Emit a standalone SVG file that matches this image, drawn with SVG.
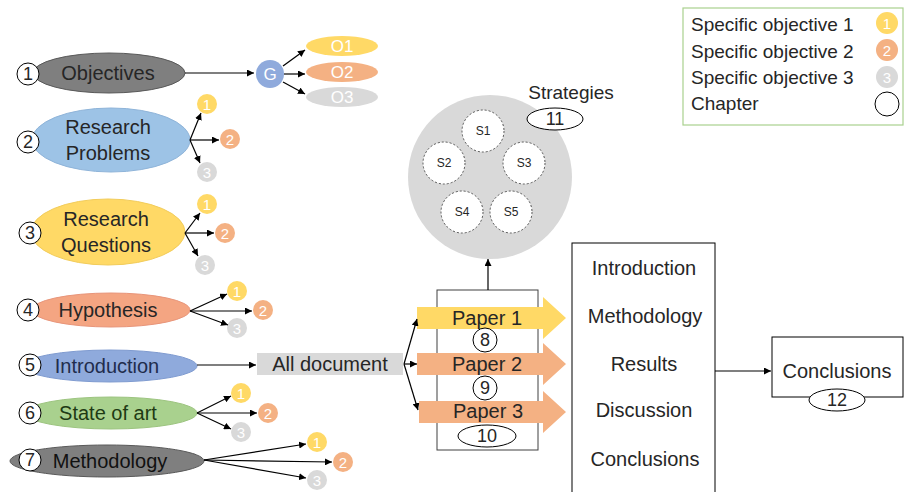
<svg xmlns="http://www.w3.org/2000/svg" width="906" height="492" viewBox="0 0 906 492">
<defs>
<marker id="ah" viewBox="0 0 10 10" refX="10" refY="5" markerWidth="7" markerHeight="7" orient="auto" markerUnits="userSpaceOnUse"><path d="M0,0 L10,5 L0,10 z" fill="#000"/></marker>
<style>
text{font-family:"Liberation Sans",Arial,sans-serif;fill:#262626;text-anchor:middle;dominant-baseline:central}
.t{font-size:20px}
.n{font-size:18px}
.w{fill:#fff;font-size:15px}
.ow{fill:#fff;font-size:17px}
.s{font-size:12px}
.num{fill:#fff;stroke:#000;stroke-width:1}
.y{fill:#ffd966}.o{fill:#f4b183}.g{fill:#d9d9d9}
.ar{stroke:#000;stroke-width:1.2;fill:none;marker-end:url(#ah)}
.lg{font-size:19px;text-anchor:start}
</style>
</defs>
<rect width="906" height="492" fill="#fff"/>

<g id="legend">
<rect x="683" y="8" width="220" height="117" fill="#fff" stroke="#a9d18e" stroke-width="1.2"/>
<text class="lg" x="691" y="24">Specific objective 1</text>
<text class="lg" x="691" y="51">Specific objective 2</text>
<text class="lg" x="691" y="77">Specific objective 3</text>
<text class="lg" x="691" y="103">Chapter</text>
<circle class="y" cx="887" cy="23" r="11"/><text class="w" x="887" y="23">1</text>
<circle class="o" cx="887" cy="50" r="11"/><text class="w" x="887" y="50">2</text>
<circle class="g" cx="887" cy="77" r="11"/><text class="w" x="887" y="77">3</text>
<circle class="num" cx="887" cy="104" r="12"/>
</g>

<g id="objectives">
<ellipse cx="109" cy="73" rx="76" ry="20" fill="#7f7f7f" stroke="#595959"/>
<text class="t" x="108" y="73">Objectives</text>
<circle class="num" cx="28" cy="74" r="11"/><text class="n" x="28" y="74">1</text>
</g>
<g id="G"><circle cx="270" cy="74" r="14" fill="#8faadc"/><text class="ow" x="270" y="74">G</text></g>
<g id="O1"><ellipse class="y" cx="342" cy="46" rx="36" ry="10"/><text class="ow" x="342" y="46">O1</text></g>
<g id="O2"><ellipse class="o" cx="342" cy="72" rx="36" ry="10"/><text class="ow" x="342" y="72">O2</text></g>
<g id="O3"><ellipse class="g" cx="342" cy="97" rx="36" ry="10"/><text class="ow" x="342" y="97">O3</text></g>

<g id="problems">
<ellipse cx="111" cy="140" rx="79" ry="32" fill="#9dc3e6" stroke="#8fb4d9"/>
<text class="t" x="108" y="127">Research</text>
<text class="t" x="108" y="153">Problems</text>
<circle class="num" cx="28" cy="142" r="11"/><text class="n" x="28" y="142">2</text>
</g>
<g id="p1"><circle class="y" cx="207" cy="104" r="10"/><text class="w" x="207" y="104">1</text></g>
<g id="p2"><circle class="o" cx="230" cy="139" r="10"/><text class="w" x="230" y="139">2</text></g>
<g id="p3"><circle class="g" cx="207" cy="172" r="10"/><text class="w" x="207" y="172">3</text></g>

<g id="questions">
<ellipse cx="108" cy="232" rx="77" ry="33" fill="#ffd966" stroke="#f2cc5a"/>
<text class="t" x="106" y="219">Research</text>
<text class="t" x="106" y="245">Questions</text>
<circle class="num" cx="30" cy="233" r="11"/><text class="n" x="30" y="233">3</text>
</g>
<g id="q1"><circle class="y" cx="207" cy="204" r="10"/><text class="w" x="207" y="204">1</text></g>
<g id="q2"><circle class="o" cx="225" cy="233" r="10"/><text class="w" x="225" y="233">2</text></g>
<g id="q3"><circle class="g" cx="205" cy="265" r="10"/><text class="w" x="205" y="265">3</text></g>

<g id="hypothesis">
<ellipse cx="111" cy="310" rx="79" ry="17" fill="#f4a582" stroke="#e8957a"/>
<text class="t" x="108" y="310">Hypothesis</text>
<circle class="num" cx="28" cy="310" r="11"/><text class="n" x="28" y="310">4</text>
</g>
<g id="h1"><circle class="y" cx="237" cy="291" r="10"/><text class="w" x="237" y="291">1</text></g>
<g id="h2"><circle class="o" cx="263" cy="310" r="10"/><text class="w" x="263" y="310">2</text></g>
<g id="h3"><circle class="g" cx="237" cy="328" r="10"/><text class="w" x="237" y="328">3</text></g>

<g id="introduction">
<ellipse cx="110" cy="366" rx="87" ry="16" fill="#8faadc" stroke="#7f9bd0"/>
<text class="t" x="107" y="366" style="fill:#1f2d4d">Introduction</text>
<circle class="num" cx="30" cy="365" r="11"/><text class="n" x="30" y="365">5</text>
</g>
<g id="alldoc"><rect x="257" y="353" width="146" height="22" fill="#d9d9d9"/><text class="t" x="330" y="364">All document</text></g>

<g id="stateofart">
<ellipse cx="111" cy="413" rx="86" ry="16" fill="#a9d18e" stroke="#9cc47f"/>
<text class="t" x="108" y="413" style="fill:#1e3a14">State of art</text>
<circle class="num" cx="30" cy="413" r="11"/><text class="n" x="30" y="413">6</text>
</g>
<g id="s1c"><circle class="y" cx="241" cy="393" r="10"/><text class="w" x="241" y="393">1</text></g>
<g id="s2c"><circle class="o" cx="268" cy="413" r="10"/><text class="w" x="268" y="413">2</text></g>
<g id="s3c"><circle class="g" cx="241" cy="432" r="10"/><text class="w" x="241" y="432">3</text></g>

<g id="methodology">
<ellipse cx="107" cy="461" rx="97" ry="16" fill="#7f7f7f" stroke="#595959"/>
<text class="t" x="110" y="461" style="fill:#111">Methodology</text>
<circle class="num" cx="30" cy="460" r="11"/><text class="n" x="30" y="460">7</text>
</g>
<g id="m1"><circle class="y" cx="317" cy="442" r="10"/><text class="w" x="317" y="442">1</text></g>
<g id="m2"><circle class="o" cx="343" cy="462" r="10"/><text class="w" x="343" y="462">2</text></g>
<g id="m3"><circle class="g" cx="317" cy="480" r="10"/><text class="w" x="317" y="480">3</text></g>

<g id="strategies">
<circle cx="490" cy="177" r="82" fill="#d9d9d9"/>
<g fill="#fff" stroke="#555" stroke-dasharray="2,2">
<circle cx="483" cy="131" r="21"/><circle cx="444" cy="163" r="21"/><circle cx="524" cy="163" r="21"/><circle cx="462" cy="212" r="21"/><circle cx="511" cy="212" r="21"/>
</g>
<text class="s" x="483" y="131">S1</text><text class="s" x="444" y="163">S2</text><text class="s" x="524" y="163">S3</text><text class="s" x="462" y="212">S4</text><text class="s" x="511" y="212">S5</text>
<text class="n" x="571" y="92" style="font-size:19px">Strategies</text>
<ellipse class="num" cx="555" cy="119" rx="28" ry="11"/><text class="n" x="555" y="119">11</text>
</g>

<g id="papers">
<rect x="437" y="290" width="101" height="160" fill="#fff" stroke="#404040"/>
<path class="y" d="M417,307 H543 V297 L566,318 L543,339 V329 H417 z"/>
<path class="o" d="M417,353 H543 V343 L566,364 L543,385 V375 H417 z"/>
<path class="o" d="M419,401 H543 V391 L566,412 L543,433 V423 H419 z"/>
<text class="t" x="487" y="318">Paper 1</text>
<text class="t" x="487" y="364">Paper 2</text>
<text class="t" x="488" y="411">Paper 3</text>
<circle class="num" cx="485" cy="340" r="12"/><text class="n" x="485" y="340">8</text>
<circle class="num" cx="485" cy="388" r="12"/><text class="n" x="485" y="388">9</text>
<ellipse class="num" cx="487" cy="436" rx="29" ry="11"/><text class="n" x="487" y="436">10</text>
</g>

<g id="chapters">
<rect x="572" y="243" width="143" height="260" fill="#fff" stroke="#000"/>
<text class="t" x="644" y="268">Introduction</text>
<text class="t" x="645" y="316">Methodology</text>
<text class="t" x="644" y="364">Results</text>
<text class="t" x="644" y="410">Discussion</text>
<text class="t" x="645" y="459">Conclusions</text>
</g>

<g id="conclusions">
<rect x="772" y="337" width="131" height="60" fill="#fff" stroke="#000"/>
<text class="t" x="837" y="371">Conclusions</text>
<ellipse class="num" cx="837" cy="400" rx="28" ry="11"/><text class="n" x="837" y="400">12</text>
</g>

<g id="connectors">
<path class="ar" d="M185,73 H254"/>
<path class="ar" d="M283,66 L305,50"/>
<path class="ar" d="M284,74 H305"/>
<path class="ar" d="M283,82 L305,94"/>
<path class="ar" d="M190,140 L201,113"/>
<path class="ar" d="M190,140 H219"/>
<path class="ar" d="M190,140 L200,163"/>
<path class="ar" d="M185,233 L200,213"/>
<path class="ar" d="M185,233 H214"/>
<path class="ar" d="M185,233 L198,256"/>
<path class="ar" d="M190,311 L227,294"/>
<path class="ar" d="M190,311 H252"/>
<path class="ar" d="M190,311 L228,325"/>
<path class="ar" d="M197,365 H256"/>
<path class="ar" d="M197,413 L231,396"/>
<path class="ar" d="M197,413 H257"/>
<path class="ar" d="M197,413 L231,429"/>
<path class="ar" d="M204,460 L306,444"/>
<path class="ar" d="M204,460 L332,462"/>
<path class="ar" d="M204,460 L306,478"/>
<path class="ar" d="M404,364 L417,319"/>
<path class="ar" d="M404,364 H417"/>
<path class="ar" d="M404,364 L418,410"/>
<path class="ar" d="M488,290 V259"/>
<path class="ar" d="M715,371 H771"/>
</g>
</svg>
